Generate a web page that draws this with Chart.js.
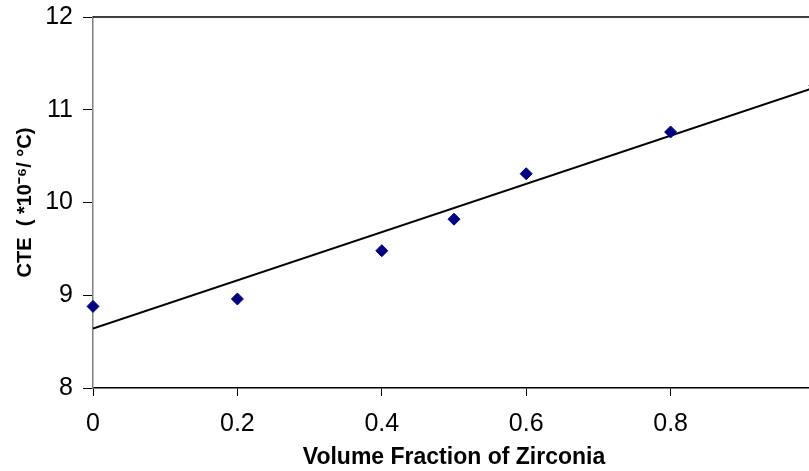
<!DOCTYPE html>
<html>
<head>
<meta charset="utf-8">
<script src="https://cdn.jsdelivr.net/npm/chart.js@4/dist/chart.umd.min.js"></script>
<style>
  html, body { margin: 0; padding: 0; background: #fff; overflow: hidden; }
  #wrap { width: 809px; height: 471px; overflow: hidden; }
</style>
</head>
<body>
<div id="wrap"><canvas id="myChart" width="840" height="471"></canvas></div>
<script>
// Data
const fractions = [0, 0.2, 0.4, 0.5, 0.6, 0.8, 1.0];
const cteValues = [8.88, 8.96, 9.48, 9.82, 10.31, 10.76, 11.26];

// Linear trend line end points
const trendX = [0, 1];
const trendY = [8.64, 11.24];

const xTicks = [0, 0.2, 0.4, 0.6, 0.8, 1];
const yTicks = [8, 9, 10, 11, 12];

const tickFont = { family: "'Liberation Sans', Arial, sans-serif", size: 25 };

// Top border of the plot (Excel style frame)
const topLine = {
    id: 'topLine',
    afterDraw(chart) {
        const { ctx, chartArea } = chart;
        ctx.save();
        ctx.strokeStyle = '#000';
        ctx.lineWidth = 1.5;
        ctx.beginPath();
        ctx.moveTo(chartArea.left, chartArea.top);
        ctx.lineTo(chartArea.right, chartArea.top);
        ctx.stroke();
        ctx.restore();
    }
};

const data = {
    datasets: [{
        type: 'scatter',
        label: 'CTE',
        data: fractions.map((x, i) => ({ x: x, y: cteValues[i] })),
        backgroundColor: '#000080',
        borderColor: '#000080',
        pointStyle: 'rectRot',
        pointRadius: 6,
        pointHoverRadius: 6,
        clip: false,
        order: 1
    }, {
        type: 'line',
        label: 'Linear',
        data: trendX.map((x, i) => ({ x: x, y: trendY[i] })),
        borderColor: '#000',
        borderWidth: 2,
        pointRadius: 0,
        fill: false,
        order: 2
    }]
};

const config = {
    data: data,
    options: {
        responsive: false,
        animation: false,
        layout: {
            padding: { top: 17, right: 25, left: 0, bottom: 0 }
        },
        plugins: {
            legend: { display: false },
            tooltip: { enabled: false }
        },
        scales: {
            x: {
                type: 'linear',
                min: 0,
                max: 1,
                afterFit(scale) {
                    scale.height = 83;
                    scale.paddingLeft = 0;
                    scale.paddingRight = 0;
                },
                afterBuildTicks(scale) { scale.ticks = xTicks.map(v => ({ value: v })); },
                border: { color: '#000', width: 1.5 },
                grid: { drawOnChartArea: false, drawTicks: true, tickLength: 8, color: '#000' },
                ticks: {
                    color: '#000',
                    font: tickFont,
                    padding: 13,
                    maxRotation: 0,
                    callback: v => String(v)
                },
                title: {
                    display: true,
                    text: 'Volume Fraction of Zirconia',
                    color: '#000',
                    font: { family: "'Liberation Sans', Arial, sans-serif", size: 23, weight: 'bold' },
                    padding: { top: 0, bottom: 0 }
                }
            },
            y: {
                type: 'linear',
                min: 8,
                max: 12,
                afterFit(scale) {
                    scale.width = 93;
                    scale.paddingTop = 0;
                    scale.paddingBottom = 0;
                },
                afterBuildTicks(scale) { scale.ticks = yTicks.map(v => ({ value: v })); },
                border: { color: '#808080', width: 1.5 },
                grid: { drawOnChartArea: false, drawTicks: true, tickLength: 10, color: '#000' },
                ticks: {
                    color: '#000',
                    font: tickFont,
                    padding: 10
                },
                title: {
                    display: true,
                    text: 'CTE  ( *10⁻⁶/ °C)',
                    color: '#000',
                    font: { family: "'Liberation Sans', Arial, sans-serif", size: 20, weight: 'bold' },
                    padding: { top: 13, bottom: 0 }
                }
            }
        }
    },
    plugins: [topLine]
};

const cteChart = new Chart(document.getElementById('myChart'), config);
</script>
</body>
</html>
